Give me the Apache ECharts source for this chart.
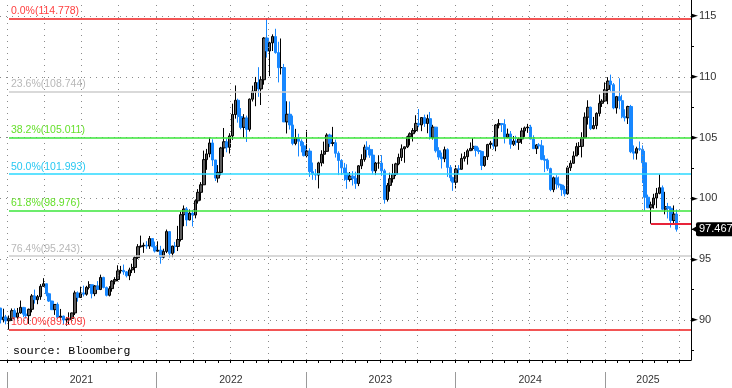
<!DOCTYPE html>
<html><head><meta charset="utf-8">
<script src="https://cdn.jsdelivr.net/npm/echarts@6/dist/echarts.min.js"></script>
<style>html,body{margin:0;padding:0;background:#fff}#c{width:732px;height:388px}</style>
</head><body><div id="c"></div>
<script>
// Weekly candles (mid-week date of the first candle; one candle per week)
const firstWeekUTC = [2020, 11, 16];
const opens = [
90.98,90.02,90.24,89.94,90.10,90.77,90.23,90.58,91.04,90.48,
90.36,90.88,91.98,91.67,91.92,92.77,92.98,92.16,91.56,90.85,
91.28,90.22,90.32,90.00,90.03,90.13,90.58,92.23,91.85,92.23,
92.12,92.69,92.90,92.17,92.80,92.51,93.50,92.68,92.03,92.58,
93.20,93.33,94.04,94.08,93.96,93.64,94.12,94.32,95.13,96.03,
96.09,96.15,96.08,96.70,96.03,95.67,95.73,95.17,95.64,97.27,
95.48,96.08,96.05,96.62,98.66,99.13,98.23,98.79,98.63,99.80,
100.50,101.12,103.19,103.66,104.56,103.16,101.67,102.14,104.15,104.66,
104.20,105.14,106.90,108.07,106.73,105.84,106.61,105.68,108.16,108.82,
109.53,109.00,109.76,113.19,112.12,112.79,113.31,111.99,110.75,110.76,
106.29,106.92,106.04,104.52,104.98,104.70,104.32,103.52,103.89,102.20,
101.99,101.92,102.92,103.63,103.87,105.21,104.52,104.58,103.71,103.12,
102.51,102.08,101.55,101.83,101.66,101.22,102.68,103.20,104.21,104.03,
103.56,102.27,102.91,102.91,102.27,99.91,101.07,101.62,101.99,102.84,
103.37,104.08,104.24,105.07,105.32,105.58,106.17,106.04,106.65,106.16,
106.56,105.02,105.86,103.92,103.40,103.26,104.01,102.55,101.70,101.33,
102.42,102.40,103.29,103.43,103.92,104.11,104.28,103.94,103.86,102.71,
103.43,104.43,104.55,104.30,106.04,106.15,106.08,105.02,105.30,104.45,
104.72,104.61,104.89,105.55,105.80,105.87,104.88,104.09,104.40,104.32,
103.21,103.14,102.45,100.72,101.70,101.18,101.10,100.72,100.38,102.52,
102.89,103.49,104.26,104.28,104.99,106.68,107.49,105.74,105.99,106.99,
107.82,108.00,108.95,109.65,109.35,107.44,108.37,108.04,106.71,106.63,
107.56,103.84,103.72,104.09,104.04,102.93,100.10,99.23,99.47,100.03,
100.42,100.88,99.11,99.33,99.19,98.18,98.71
];
const highs = [
91.00,90.93,90.42,90.37,90.95,90.95,90.99,91.60,91.07,91.05,
90.94,92.13,92.50,92.06,92.95,93.44,93.00,92.24,91.58,91.31,
91.44,90.91,90.36,90.25,90.63,90.61,92.41,92.35,92.74,92.83,
92.81,93.19,92.92,92.87,93.20,93.73,93.56,92.75,92.78,93.28,
93.52,94.50,94.45,94.56,94.03,94.30,94.63,95.27,96.24,96.94,
96.36,96.48,96.91,96.74,96.45,96.47,96.10,95.86,97.44,97.32,
96.11,96.42,97.74,98.91,99.42,99.29,99.09,99.05,99.92,100.76,
101.34,103.93,104.07,105.01,104.86,103.17,102.74,104.24,105.79,104.94,
105.36,107.79,109.29,108.20,107.43,106.93,106.81,108.22,109.27,109.99,
110.79,110.04,113.26,114.778,112.88,113.49,113.95,112.88,113.15,111.06,
107.99,107.97,106.81,105.72,105.32,104.86,104.63,105.63,104.12,102.95,
102.41,103.01,103.96,104.67,105.36,105.32,105.88,104.84,103.87,103.23,
102.92,102.81,102.17,102.24,102.20,102.74,103.63,104.42,104.70,104.40,
104.05,103.00,103.55,103.56,102.43,101.27,102.11,102.84,102.93,103.68,
104.44,104.26,105.16,105.43,105.78,106.84,107.35,106.68,106.89,106.89,
107.11,106.05,105.86,104.21,103.77,104.26,104.12,102.74,101.78,102.73,
102.74,103.69,103.82,104.08,104.60,104.97,104.33,104.19,103.92,103.48,
104.49,104.73,105.10,106.11,106.52,106.20,106.51,105.74,105.54,105.13,
105.15,105.01,105.80,105.91,106.13,106.05,105.19,104.47,104.55,104.80,
103.55,103.28,102.53,101.80,101.91,101.80,101.16,101.03,102.69,103.13,
103.87,104.57,104.63,105.44,107.07,108.07,107.55,106.70,107.08,108.54,
108.16,109.54,109.97,110.18,109.49,108.43,109.88,108.52,107.33,107.62,
107.69,104.36,104.25,104.68,104.36,103.91,100.31,99.73,100.38,100.86,
101.98,101.06,100.54,99.63,99.36,99.42,99.09
];
const lows = [
89.72,89.80,89.64,89.209,89.92,89.96,90.05,90.52,90.23,90.12,
89.68,90.63,91.35,91.30,91.66,92.72,91.95,91.48,90.82,90.42,
90.08,89.98,89.65,89.53,89.66,89.81,90.41,91.51,91.84,91.94,
92.00,92.51,91.78,91.96,92.47,92.46,92.60,91.94,91.94,92.33,
92.93,93.18,93.82,93.72,93.50,93.28,93.86,93.87,95.02,95.95,
95.52,95.86,95.85,95.98,95.55,95.62,94.63,95.07,95.50,95.14,
95.17,95.53,95.67,96.46,97.71,97.72,98.19,97.69,98.36,99.57,
99.82,101.11,102.35,103.38,102.66,101.43,101.30,101.90,103.41,103.79,
103.69,104.81,106.56,106.23,105.68,104.99,104.64,105.50,107.97,107.58,
108.35,107.68,109.35,111.58,110.05,112.12,111.90,109.54,110.19,106.28,
105.34,105.66,104.37,104.37,103.45,103.79,103.45,103.37,101.77,101.53,
101.50,100.82,102.64,102.85,103.82,104.22,104.29,103.36,101.92,101.92,
101.45,100.79,101.38,101.06,100.79,101.01,102.41,103.02,103.37,103.34,
101.98,101.92,102.44,101.86,99.57,99.74,100.55,101.30,101.83,102.73,
103.07,102.93,104.14,104.36,104.68,105.43,105.86,105.53,105.88,105.36,
104.84,104.84,103.77,103.17,102.46,102.98,101.77,101.41,100.62,100.82,
101.97,102.35,103.03,102.78,103.90,103.93,103.44,103.64,102.33,102.60,
103.16,104.09,104.05,103.88,105.76,105.46,104.52,104.99,104.08,104.31,
104.35,103.99,104.48,105.06,105.39,104.86,104.06,103.65,104.08,103.14,
102.16,102.27,100.59,100.51,100.75,100.88,100.21,100.16,100.30,102.26,
102.85,103.48,103.57,103.37,104.96,106.07,105.62,105.68,105.69,106.74,
107.52,107.95,107.75,108.79,107.33,106.97,107.33,106.59,106.33,106.12,
103.72,103.20,103.19,103.91,101.26,99.01,99.20,97.92,99.15,99.20,
100.34,99.02,98.69,98.35,97.60,97.82,97.27
];
const closes = [
90.02,90.24,89.94,90.10,90.77,90.23,90.58,91.04,90.48,90.36,
90.88,91.98,91.67,91.92,92.77,92.98,92.16,91.56,90.85,91.28,
90.22,90.32,90.00,90.03,90.13,90.58,92.23,91.85,92.23,92.12,
92.69,92.90,92.17,92.80,92.51,93.50,92.68,92.03,92.58,93.20,
93.33,94.04,94.08,93.96,93.64,94.12,94.32,95.13,96.03,96.09,
96.15,96.08,96.70,96.03,95.67,95.73,95.17,95.64,97.27,95.48,
96.08,96.05,96.62,98.66,99.13,98.23,98.79,98.63,99.80,100.50,
101.12,103.19,103.66,104.56,103.16,101.67,102.14,104.15,104.66,104.20,
105.14,106.90,108.07,106.73,105.84,106.61,105.68,108.16,108.82,109.53,
109.00,109.76,113.19,112.12,112.79,113.31,111.99,110.75,110.76,106.29,
106.92,106.04,104.52,104.98,104.70,104.32,103.52,103.89,102.20,101.99,
101.92,102.92,103.63,103.87,105.21,104.52,104.58,103.71,103.12,102.51,
102.08,101.55,101.83,101.66,101.22,102.68,103.20,104.21,104.03,103.56,
102.27,102.91,102.91,102.27,99.91,101.07,101.62,101.99,102.84,103.37,
104.08,104.24,105.07,105.32,105.58,106.17,106.04,106.65,106.16,106.56,
105.02,105.86,103.92,103.40,103.26,104.01,102.55,101.70,101.33,102.42,
102.40,103.29,103.43,103.92,104.11,104.28,103.94,103.86,102.71,103.43,
104.43,104.55,104.30,106.04,106.15,106.08,105.02,105.30,104.45,104.72,
104.61,104.89,105.55,105.80,105.87,104.88,104.09,104.40,104.32,103.21,
103.14,102.45,100.72,101.70,101.18,101.10,100.72,100.38,102.52,102.89,
103.49,104.26,104.28,104.99,106.68,107.49,105.74,105.99,106.99,107.82,
108.00,108.95,109.65,109.35,107.44,108.37,108.04,106.71,106.63,107.56,
103.84,103.72,104.09,104.04,102.93,100.10,99.23,99.47,100.03,100.42,
100.88,99.11,99.33,99.19,98.18,98.71,97.467
];
const yearLabels = ['2021', '2022', '2023', '2024', '2025'];
const yTickLabels = [90, 95, 100, 105, 110, 115];
const fibRatios = [0, 0.236, 0.382, 0.5, 0.618, 0.764, 1];
const supportWeekUTC = [2025, 3, 23]; // week of the April 2025 low
const sourceText = 'source: Bloomberg';

// ---- layout / style constants ----
const DAY = 86400000;
const xMin = Date.UTC(2020, 11, 15), xMax = Date.UTC(2025, 6, 30);
const yMin = 86.711, yMax = 116.316;
const t0 = Date.UTC(...firstWeekUTC);
const dates = closes.map((_, i) => t0 + i * 7 * DAY);
const candles = closes.map((c, i) => [dates[i], opens[i], c, lows[i], highs[i]]);

const monthStarts = [], quarterStarts = [], yearStarts = [];
for (let y = 2021; y <= 2025; y++) {
  for (let m = 0; m < 12; m++) {
    const t = Date.UTC(y, m, 1);
    if (t > xMax) break;
    monthStarts.push(t);
    if (m % 3 === 0) quarterStarts.push(t);
    if (m === 0) yearStarts.push(t);
  }
}
const yearLabelPos = [Date.UTC(2021,6,2), Date.UTC(2022,6,2), Date.UTC(2023,6,2), Date.UTC(2024,6,2), Date.UTC(2025,3,16)];
const minorY = [];
for (let v = 87.5; v <= 115; v += 2.5) minorY.push(v);

const hi = Math.max(...highs), lo = Math.min(...lows);
const loIdx = lows.indexOf(lo);
const fmt3 = v => (Math.round(v * 1000 - 1e-6) / 1000).toFixed(3);
const fibLineColors = ['#ee1c1c', '#cdcdcd', '#3be63b', '#2bd9ff', '#3be63b', '#cdcdcd', '#ee1c1c'];
const fibTextColors = ['#ff4040', '#b8b8b8', '#66e02c', '#28c8f2', '#66e02c', '#b8b8b8', '#ff4040'];
const fibData = fibRatios.map((r, k) => {
  const v = hi - r * (hi - lo);
  return [
    { coord: [dates[loIdx], v],
      lineStyle: { color: fibLineColors[k], width: 1.5, type: 'solid' },
      label: { show: true, position: 'insideStartTop', distance: 2,
        formatter: (r * 100).toFixed(1) + '%(' + fmt3(v) + ')',
        color: fibTextColors[k], fontSize: 10.5, fontFamily: 'Liberation Sans' } },
    { coord: [xMax, v] }
  ];
});
const supIdx = dates.indexOf(Date.UTC(...supportWeekUTC));
const supVal = lows[supIdx];
const lastClose = closes[closes.length - 1];

const dotted = { color: '#8a8a8a', width: 1, type: [1, 5] };
const baseX = { type: 'value', min: xMin, max: xMax, position: 'bottom', scale: true };

const option = {
  animation: false,
  title: { text: sourceText, left: 13, top: 345, padding: 0,
    textStyle: { fontFamily: 'Liberation Mono', fontSize: 11.5, fontWeight: 'normal', color: '#000' } },
  grid: { left: 0, right: 41, top: 0, bottom: 28, containLabel: false, outerBoundsMode: 'none' },
  xAxis: [
    Object.assign({}, baseX, {
      axisLine: { show: true, onZero: false, lineStyle: { color: '#000', width: 1 } },
      axisTick: { show: true, customValues: monthStarts, length: 3, lineStyle: { color: '#000' } },
      axisLabel: { show: false }, splitLine: { show: false } }),
    Object.assign({}, baseX, { offset: 12,
      axisLine: { show: false, onZero: false },
      axisTick: { show: true, customValues: yearStarts, length: 16, lineStyle: { color: '#9a9a9a' } },
      axisLabel: { show: true, customValues: yearLabelPos, margin: 3, fontSize: 10.5,
        fontFamily: 'Liberation Sans', color: '#333',
        formatter: v => yearLabels[yearLabelPos.indexOf(v)] || '' },
      splitLine: { show: false } })
  ],
  yAxis: [
    { type: 'value', min: yMin, max: yMax, position: 'right',
      axisLine: { show: false },
      axisTick: { show: false, customValues: yTickLabels },
      axisLabel: { show: true, customValues: yTickLabels, margin: 0,
        formatter: v => '{a|►}{b|' + v + '}',
        rich: { a: { fontSize: 9, color: '#000', fontFamily: 'DejaVu Sans', padding: [0, 1, 0, 0] },
                b: { fontSize: 11, color: '#333', fontFamily: 'Liberation Sans' } } },
      splitLine: { show: true, lineStyle: dotted } },
    { type: 'value', min: yMin, max: yMax, position: 'right',
      axisLine: { show: true, lineStyle: { color: '#000', width: 1 } },
      axisTick: { show: true, customValues: minorY, length: 3, lineStyle: { color: '#000' } },
      axisLabel: { show: false }, splitLine: { show: false } },
    { type: 'value', min: yMin, max: yMax, position: 'right',
      axisLine: { show: false }, axisTick: { show: false, customValues: [lastClose] },
      axisLabel: { show: true, customValues: [lastClose], margin: 5,
        formatter: v => v.toFixed(3),
        backgroundColor: '#000', color: '#fff', padding: [2, 2, 1, 3], borderRadius: 2,
        fontSize: 11, fontFamily: 'Liberation Sans' },
      splitLine: { show: false } }
  ],
  series: [{
    // quarterly vertical grid (dotted), drawn behind the candles
    type: 'line', xAxisIndex: 0, yAxisIndex: 0, data: [], z: 1, silent: true,
    markLine: {
      silent: true, symbol: ['none', 'none'], animation: false, label: { show: false },
      lineStyle: dotted,
      data: quarterStarts.map(t => ({ xAxis: t }))
    }
  }, {
    type: 'candlestick', xAxisIndex: 0, yAxisIndex: 0, z: 3,
    dimensions: ['date', 'open', 'close', 'lowest', 'highest'],
    encode: { x: 0, y: [1, 2, 3, 4] },
    data: candles,
    barWidth: 2.9,
    itemStyle: { color: '#5a5a5a', borderColor: '#000', color0: '#1787ff', borderColor0: '#1787ff', borderWidth: 1 },
    markLine: {
      silent: true, symbol: ['none', 'none'], animation: false,
      data: fibData.concat([
        [ { coord: [dates[supIdx], supVal], lineStyle: { color: '#e8243a', width: 2, type: 'solid' }, label: { show: false } },
          { coord: [xMax, supVal] } ]
      ])
    },
    markPoint: {
      silent: true, animation: false,
      data: [{ coord: [xMax, lastClose], symbol: 'triangle', symbolSize: [8, 7], symbolRotate: 90,
        symbolOffset: [4, 0], itemStyle: { color: '#000' }, label: { show: false } }]
    }
  }]
};
const chart = echarts.init(document.getElementById('c'));
chart.setOption(option);
</script>
</body></html>
